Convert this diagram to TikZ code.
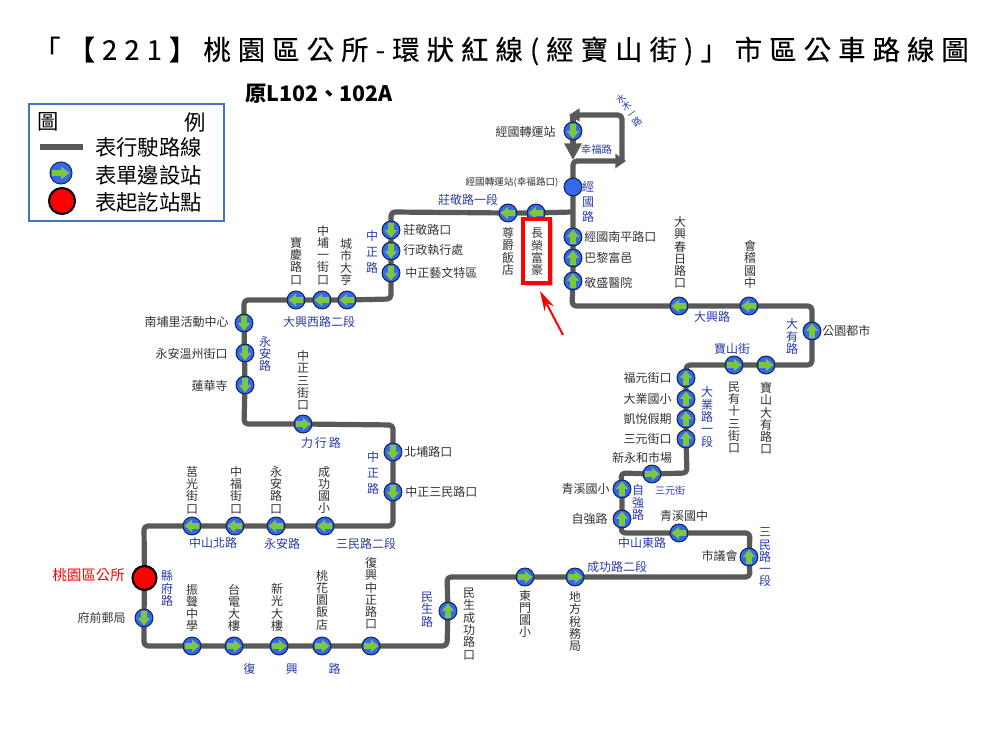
\documentclass[tikz,border=0pt]{standalone}
\usepackage{fontspec}
\setmainfont{Noto Sans CJK TC}
\newfontfamily\titlef[LetterSpace=26,FakeBold=0.25]{Noto Sans CJK TC}
\usetikzlibrary{arrows.meta,backgrounds}
\definecolor{routegray}{HTML}{595959}
\definecolor{stablue}{HTML}{3568EC}
\definecolor{staedge}{HTML}{14285A}
\definecolor{stagreen}{HTML}{7FC63F}
\definecolor{roadblue}{HTML}{2B3AA8}
\definecolor{labgray}{HTML}{333333}
\definecolor{boxblue}{HTML}{4472C4}
\newcommand\fs[1]{\fontsize{#1}{#1}\selectfont}
\newdimen\vpitch
\makeatletter
\newcommand\VT[1]{\vbox{\baselineskip=\vpitch\lineskip=0pt\lineskiplimit=-100pt\@tfor\c:=#1\do{\hbox to 1.2em{\hss\c\hss}}}}
\makeatother
\newcounter{lbn}
\newcommand\Lb[3]{\stepcounter{lbn}\node[#1] (lb\thelbn) at (#2) {#3};}
% vertical station label: x, top, bottom, text
\newcommand\Vs[4]{\stepcounter{lbn}\vpitch=9.2pt\node[lab] (lb\thelbn) at (#1,{(#2+#3)/2}) {\VT{#4}};}
% vertical road label: x, centre y, pitch (pt), text
\newcommand\Vr[4]{\stepcounter{lbn}\vpitch=#3pt\node[road] (lb\thelbn) at (#1,#2) {\VT{#4}};}
% station: name, x, y, arrow angle
\newcommand\St[4]{\node[sta] (#1) at (#2,#3) {};
  \fill[stagreen,shift={(#1.center)},rotate=#4] (-7,-2.8) -- (0,-2.8) -- (0,-6.2) -- (7.4,0) -- (0,6.2) -- (0,2.8) -- (-7,2.8) -- cycle;}
\tikzset{
  route/.style={draw=routegray,line width=3.9pt,rounded corners=3pt,line join=round},
  sta/.style={circle,fill=stablue,draw=staedge,line width=0.8pt,minimum size=13.4pt,inner sep=0pt},
  term/.style={circle,fill=red,draw=black,line width=1.6pt,minimum size=18pt,inner sep=0pt},
  lab/.style={text=labgray,inner sep=0pt,font=\fs{9}},
  labe/.style={lab,anchor=east},
  labw/.style={lab,anchor=west},
  road/.style={text=roadblue,inner sep=0pt,font=\fs{9}},
}
\begin{document}
\begin{tikzpicture}[x=0.75pt,y=-0.75pt]
\useasboundingbox (0,0) rectangle (1000,730);
% title
\node[anchor=west,inner sep=0pt,font=\titlef\fs{20.5},text=black] (title) at (33,51) {「【221】桃園區公所-環狀紅線(經寶山街)」市區公車路線圖};
\node[anchor=west,inner sep=0pt,font=\bfseries\fs{16},text=black] (sub) at (245,94) {原L102、102A};
% legend
\node[draw=boxblue,line width=1.6pt,fill=white,minimum width=146pt,minimum height=87.5pt,inner sep=0pt,anchor=north west] (legend) at (28,103) {};
\Lb{anchor=center,inner sep=0pt,font=\fs{16}}{48,122}{圖}
\Lb{anchor=center,inner sep=0pt,font=\fs{16}}{195,122}{例}
\coordinate (lga) at (40,147);
\coordinate (lgb) at (83,147);
\draw[routegray,line width=4pt] (lga) -- (lgb);
\Lb{anchor=west,inner sep=0pt,font=\fs{16}}{95,147}{表行駛路線}
\Lb{anchor=west,inner sep=0pt,font=\fs{16}}{95,175}{表單邊設站}
\Lb{anchor=west,inner sep=0pt,font=\fs{16}}{95,202}{表起訖站點}
\node[sta,minimum size=16.5pt] (lgs) at (61,173) {};
\fill[stagreen,shift={(lgs.center)}] (-9,-2.8) -- (0,-2.8) -- (0,-6.5) -- (8.5,0) -- (0,6.5) -- (0,2.8) -- (-9,2.8) -- cycle;
\node[term,minimum size=19.5pt] (lgt) at (62,201) {};
% stations
\node[term] (start) at (144.5,578) {};
\St{fq}{144}{618}{270}
\St{a1}{192}{646}{0}
\St{a2}{234}{646}{0}
\St{a3}{279}{646}{0}
\St{a4}{322}{646}{0}
\St{a5}{371}{646}{0}
\St{ms}{448}{611}{90}
\St{dm}{525}{577}{0}
\St{df}{575}{577}{0}
\St{syh}{749}{557}{90}
\St{qz}{679}{533}{180}
\St{zq}{622}{519}{90}
\St{qx}{622}{489}{90}
\St{xy}{652}{474}{0}
\St{sy}{686}{439}{90}
\St{kh}{686}{419}{90}
\St{dy}{686}{399}{90}
\St{fy}{686}{378}{90}
\St{my}{734}{365}{0}
\St{bs}{766}{365}{0}
\St{gy}{812}{331}{90}
\St{kj}{749}{306}{180}
\St{dc}{679}{306}{180}
\St{js}{573}{281}{90}
\St{bl}{573}{258}{90}
\St{np}{573}{237}{90}
\node[sta] (jg) at (573,187) {};
\St{zh}{573}{131}{270}
\St{cr}{536}{213}{180}
\St{zj}{508}{213}{180}
\St{zj1}{391}{230}{270}
\St{zj2}{391}{251}{270}
\St{zj3}{391}{273}{270}
\St{cs}{347}{300}{180}
\St{zp}{322}{300}{180}
\St{bq}{296}{300}{180}
\St{nb}{244}{323}{270}
\St{ya}{245}{353}{270}
\St{lh}{245}{385}{270}
\St{zs}{303}{424}{0}
\St{bp}{393}{452}{270}
\St{zm}{393}{492}{270}
\St{cg}{325}{526}{180}
\St{yr}{276}{526}{180}
\St{zf}{235}{526}{180}
\St{jgk}{192}{526}{180}
% corner coordinates
\coordinate (c1) at (144,646);
\coordinate (c2) at (447,646);
\coordinate (c3) at (447,577);
\coordinate (c4) at (750,577);
\coordinate (c5) at (750,533);
\coordinate (c6) at (621,533);
\coordinate (c7) at (621,473);
\coordinate (c8) at (687,473);
\coordinate (c9) at (686,365);
\coordinate (c10) at (812,365);
\coordinate (c11) at (812,306);
\coordinate (c12) at (572,306);
\coordinate (c13) at (391,212);
\coordinate (c14) at (391,299);
\coordinate (c15) at (244,300);
\coordinate (c16) at (244,424);
\coordinate (c17) at (393,425);
\coordinate (c18) at (393,526);
\coordinate (c19) at (144,526);
\coordinate (c20) at (572,212);
\coordinate (la) at (573,161);
\coordinate (lb) at (626,161);
\coordinate (lr) at (622,161);
\coordinate (lt) at (622,115);
\coordinate (le) at (569,115);
\coordinate (lq) at (573,115);
\coordinate (ld) at (573,160);
\begin{scope}[on background layer]
\draw[route] (start.center) -- (fq.center) -- (c1) -- (a1.center) -- (a5.center) -- (c2) -- (ms.center) -- (c3) -- (dm.center) -- (df.center) -- (c4) -- (syh.center) -- (c5) -- (qz.center) -- (c6) -- (zq.center) -- (qx.center) -- (c7) -- (xy.center) -- (c8) -- (sy.center) -- (fy.center) -- (c9) -- (my.center) -- (bs.center) -- (c10) -- (gy.center) -- (c11) -- (kj.center) -- (dc.center) -- (c12) -- (js.center) -- (np.center) -- (jg.center);
\draw[route] (start.center) -- (c19) -- (jgk.center) -- (cg.center) -- (c18) -- (zm.center) -- (bp.center) -- (c17) -- (zs.center) -- (c16) -- (lh.center) -- (nb.center) -- (c15) -- (bq.center) -- (cs.center) -- (c14) -- (zj3.center) -- (zj1.center) -- (c13) -- (zj.center) -- (cr.center) -- (c20);
\draw[route,-{Triangle[length=8pt,width=10.5pt]}] (jg.center) -- (la) -- (lb);
\draw[route,-{Triangle[length=8pt,width=9.5pt]}] (lr) -- (lt) -- (le);
\draw[route,-{Triangle[length=12.5pt,width=12.5pt]}] (lq) -- (zh.center) -- (ld);
\end{scope}
% highlight
\fill[gray!45] (526,222) rectangle (553,286);
\fill[white] (525,221) rectangle (549,282);
\node[draw=red,line width=2.8pt,minimum width=20pt,minimum height=48pt,inner sep=0pt] (hl) at (536.5,251) {};
\coordinate (rt) at (563,335);
\coordinate (rh) at (540,291);
\draw[red,line width=1.5pt,-{Stealth[length=15pt,width=8pt]}] (rt) -- (rh);
% horizontal station labels
\Lb{labe}{556,132}{經國轉運站}
\Lb{lab,font=\fs{7.2}}{512,182}{經國轉運站(幸福路口)}
\Lb{labw}{403,230}{莊敬路口}
\Lb{labw}{403,250}{行政執行處}
\Lb{labw}{405,273}{中正藝文特區}
\Lb{labw}{584,237}{經國南平路口}
\Lb{labw}{584,258}{巴黎富邑}
\Lb{labw}{584,283}{敬盛醫院}
\Lb{labw}{822,331}{公園都市}
\Lb{labe}{672,378}{福元街口}
\Lb{labe}{672,399}{大業國小}
\Lb{labe}{672,419}{凱悅假期}
\Lb{labe}{672,439}{三元街口}
\Lb{lab}{642,458}{新永和市場}
\Lb{labe}{610,489}{青溪國小}
\Lb{labe}{608,519}{自強路}
\Lb{lab}{684,516}{青溪國中}
\Lb{labe}{738,556}{市議會}
\Lb{labe}{126,618}{府前郵局}
\Lb{labe,text=red,font=\fs{10.8}}{125,575}{桃園區公所}
\Lb{labe}{229,322}{南埔里活動中心}
\Lb{labe}{228,354}{永安溫州街口}
\Lb{labe}{228,386}{蓮華寺}
\Lb{labw}{404,452}{北埔路口}
\Lb{labw}{405,492}{中正三民路口}
% vertical station labels
\Vs{508}{227}{276}{尊爵飯店}
\Vs{537}{227}{277}{長榮富豪}
\Vs{680}{217}{288}{大興春日路口}
\Vs{750}{241}{288}{會稽國中}
\Vs{734}{382}{453}{民有十三街口}
\Vs{766}{382}{455}{寶山大有路口}
\Vs{575}{591}{652}{地方稅務局}
\Vs{525}{591}{637}{東門國小}
\Vs{469}{587}{661}{民生成功路口}
\Vs{371}{557}{630}{復興中正路口}
\Vs{322}{570}{630}{桃花園飯店}
\Vs{277}{583}{632}{新光大樓}
\Vs{234}{584}{632}{台電大樓}
\Vs{192}{584}{632}{振聲中學}
\Vs{192}{466}{514}{莒光街口}
\Vs{236}{466}{514}{中福街口}
\Vs{276}{466}{514}{永安路口}
\Vs{324}{466}{514}{成功國小}
\Vs{303}{350}{411}{中正三街口}
\Vs{296}{237}{285}{寶慶路口}
\Vs{323}{225}{285}{中埔一街口}
\Vs{346}{238}{286}{城市大亨}
% road labels horizontal
\Lb{road,font=\fs{7.8}}{596.5,150}{幸福路}
\Lb{road}{468,200}{莊敬路一段}
\Lb{road}{712,317}{大興路}
\Lb{road}{732,349}{寶山街}
\Lb{road,font=\fs{7.5}}{670,491}{三元街}
\Lb{road}{642,543}{中山東路}
\Lb{road}{617,567}{成功路二段}
\Lb{road}{213,543}{中山北路}
\Lb{road}{282,544}{永安路}
\Lb{road}{366,544}{三民路二段}
\Lb{road}{319,322}{大興西路二段}
\Lb{road}{321,443}{力\,行\,路}
\Lb{road}{292,669}{復\hspace{23pt}興\hspace{23pt}路}
% road labels vertical
\Vr{588}{202}{11.3}{經國路}
\Vr{792}{336.5}{9.2}{大有路}
\Vr{707}{417}{9.2}{大業路一段}
\Vr{638}{502.5}{9.2}{自強路}
\Vr{765}{557.5}{9.2}{三民路一段}
\Vr{427}{609.5}{9.2}{民生路}
\Vr{167}{588.5}{9.2}{縣府路}
\Vr{373}{472.5}{12}{中正路}
\Vr{265}{354}{9.2}{永安路}
\Vr{372}{252}{12}{中正路}
\stepcounter{lbn}\vpitch=7pt
\node[road,font=\fs{7},rotate=35] (shuimu) at (629,110) {\VT{水木一路}};
\end{tikzpicture}
\end{document}
